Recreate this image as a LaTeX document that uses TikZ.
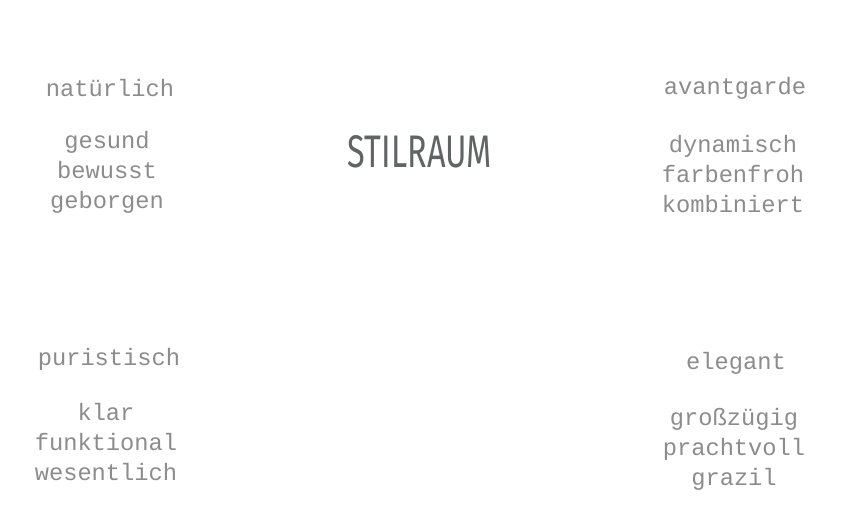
\documentclass[tikz,border=0pt]{standalone}
\usepackage{fontspec}
\setmonofont{Liberation Mono}
\newfontfamily\titlefont{Fira Sans}
\definecolor{wordgray}{RGB}{140,140,140}
\definecolor{titlegray}{RGB}{96,100,100}
\tikzset{
  word/.style={font=\ttfamily\fontsize{17.8pt}{22.5pt}\selectfont, text=wordgray, anchor=base, inner sep=0pt},
}
\begin{document}
\begin{tikzpicture}[x=0.75pt,y=0.75pt,yscale=-1,xscale=1]
\useasboundingbox[fill=white] (0,0) rectangle (846,524);

% Title
\node[text=titlegray, inner sep=0pt] (stilraum) at (420,152) {\resizebox{108pt}{24pt}{\titlefont STILRAUM}};

% Top left
\node[word] (natuerlich) at (110,97) {natürlich};
\node[word] (gesund) at (107,149) {gesund};
\node[word] (bewusst) at (107,179) {bewusst};
\node[word] (geborgen) at (107,209) {geborgen};

% Top right
\node[word] (avantgarde) at (735,95) {avantgarde};
\node[word] (dynamisch) at (733,153) {dynamisch};
\node[word] (farbenfroh) at (733,183) {farbenfroh};
\node[word] (kombiniert) at (733,213) {kombiniert};

% Bottom left
\node[word] (puristisch) at (109,365) {puristisch};
\node[word] (klar) at (106,420) {klar};
\node[word] (funktional) at (106,450) {funktional};
\node[word] (wesentlich) at (106,480) {wesentlich};

% Bottom right
\node[word] (elegant) at (736,369) {elegant};
\node[word] (grosszuegig) at (734,425) {großzügig};
\node[word] (prachtvoll) at (734,455) {prachtvoll};
\node[word] (grazil) at (734,485) {grazil};

\end{tikzpicture}
\end{document}
